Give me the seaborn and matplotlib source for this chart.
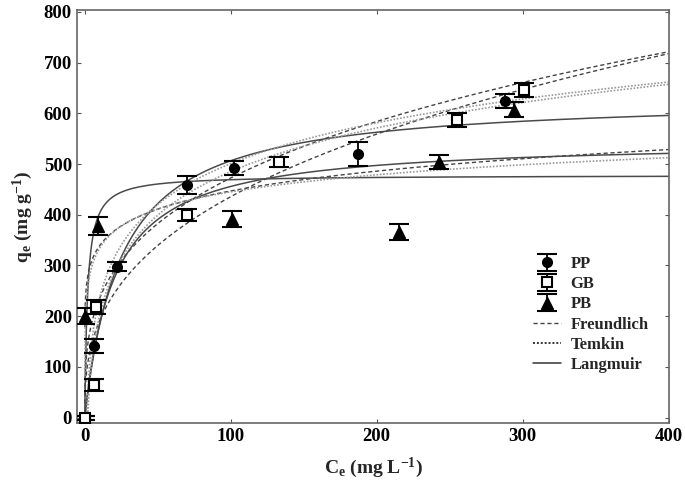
import numpy as np
import pandas as pd
import matplotlib
matplotlib.use('Agg')
import matplotlib.pyplot as plt
from matplotlib.lines import Line2D
import seaborn as sns

# measured points
pp_x = [0, 6, 22, 70, 102, 187, 288]
pp_y = [0, 142, 298, 458, 492, 520, 625]
pp_err = [4, 14, 8, 18, 14, 24, 14]

gb_x = [0, 6, 8, 70, 133, 255, 301]
gb_y = [0, 65, 218, 400, 504, 587, 646]
gb_err = [4, 12, 13, 12, 10, 14, 13]

pb_x = [0, 9, 101, 215, 243, 294]
pb_y = [200, 378, 392, 366, 504, 607]
pb_err = [16, 17, 16, 16, 14, 15]

samples = ['PP', 'GB', 'PB']
# isotherm parameters
langmuir_qm = [633, 547, 478]
langmuir_k = [0.040, 0.050, 0.53]
freundlich_kf = [116, 83, 256]
freundlich_p = [0.305, 0.36, 0.121]
temkin_b = [124, 116, 48.6]
temkin_a = [0.50, 0.75, 95.0]

if __name__ == '__main__':
    sns.set_style('ticks')
    plt.rcParams['font.family'] = ['Liberation Serif', 'DejaVu Serif']
    plt.rcParams['font.weight'] = 'bold'
    plt.rcParams['mathtext.fontset'] = 'custom'
    plt.rcParams['mathtext.rm'] = 'Liberation Serif:bold'
    plt.rcParams['mathtext.it'] = 'Liberation Serif:bold'
    plt.rcParams['mathtext.bf'] = 'Liberation Serif:bold'

    fig = plt.figure(figsize=(6.85, 4.91), dpi=100)
    ax = fig.add_axes([0.112, 0.139, 0.865, 0.841])

    c = np.linspace(0.05, 400, 1500)
    rows = []
    for i, s in enumerate(samples):
        fr = freundlich_kf[i] * c ** freundlich_p[i]
        te = temkin_b[i] * np.log(temkin_a[i] * c)
        la = langmuir_qm[i] * langmuir_k[i] * c / (1 + langmuir_k[i] * c)
        for name, q in [('Freundlich', fr), ('Temkin', te), ('Langmuir', la)]:
            rows.append(pd.DataFrame({'c': c, 'q': q, 'model': name, 'sample': s}))
    curves = pd.concat(rows, ignore_index=True)

    styles = {'Freundlich': dict(color='#444444', ls=(0, (3, 2)), lw=1.0),
              'Temkin': dict(color='#9a9a9a', ls=(0, (1, 1)), lw=1.2),
              'Langmuir': dict(color='#4a4a4a', ls='-', lw=1.1)}
    for (name, s), d in curves.groupby(['model', 'sample']):
        st = styles[name]
        sns.lineplot(data=d, x='c', y='q', ax=ax, color=st['color'],
                     linestyle=st['ls'], linewidth=st['lw'], estimator=None,
                     sort=False, legend=False)

    h_pp = ax.errorbar(pp_x, pp_y, yerr=pp_err, fmt='o', color='black', ms=7,
                       capsize=7, capthick=1.5, elinewidth=1.3, zorder=5)
    h_gb = ax.errorbar(gb_x, gb_y, yerr=gb_err, fmt='s', color='black', mfc='white',
                       mec='black', mew=1.5, ms=7, capsize=7, capthick=1.5,
                       elinewidth=1.3, zorder=5)
    h_pb = ax.errorbar(pb_x, pb_y, yerr=pb_err, fmt='^', color='black', ms=8,
                       capsize=7, capthick=1.5, elinewidth=1.3, zorder=5)

    handles = [h_pp, h_gb, h_pb,
               Line2D([], [], color='#444444', ls=(0, (3, 2)), lw=1.0),
               Line2D([], [], color='#333333', ls=(0, (1, 1)), lw=1.4),
               Line2D([], [], color='#333333', ls='-', lw=1.1)]
    labels = ['PP', 'GB', 'PB', 'Freundlich', 'Temkin', 'Langmuir']
    ax.legend(handles, labels, loc='upper left', bbox_to_anchor=(0.745, 0.44),
              frameon=False, handlelength=1.65, handletextpad=0.6,
              labelspacing=0.25, prop={'weight': 'bold', 'size': 12})

    ax.set_xlim(-5.5, 400.5)
    ax.set_ylim(-10, 804)
    ax.set_xticks([0, 100, 200, 300, 400])
    ax.set_yticks(range(0, 801, 100))
    ax.tick_params(direction='in', length=3, width=0.8, labelsize=13.5,
                   top=True, right=True, colors='#555555', labelcolor='black')
    for t in ax.get_xticklabels() + ax.get_yticklabels():
        t.set_fontweight('bold')
    for sp in ax.spines.values():
        sp.set_color('#666666')
        sp.set_linewidth(1.2)

    ax.set_xlabel('C$_\\mathrm{e}$ (mg L$^\\mathrm{-1}$)', fontsize=14,
                  fontweight='bold', labelpad=8)
    ax.set_ylabel('q$_\\mathrm{e}$ (mg g$^\\mathrm{-1}$)', fontsize=14,
                  fontweight='bold', labelpad=6)

    fig.savefig('out.png', dpi=100)
    plt.close(fig)
